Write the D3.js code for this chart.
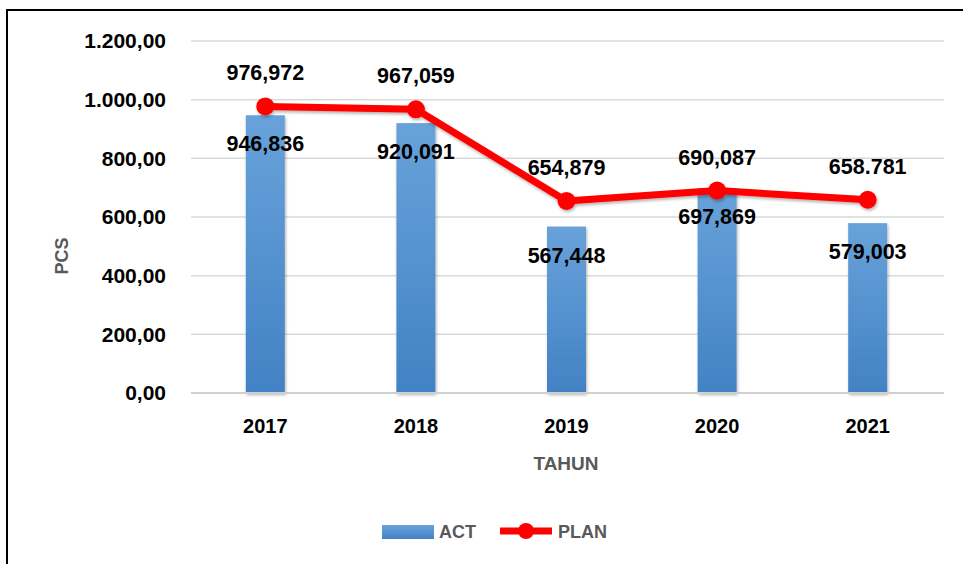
<!DOCTYPE html>
<html>
<head>
<meta charset="utf-8">
<script src="https://cdn.jsdelivr.net/npm/d3@7"></script>
<style>
  html, body { margin: 0; padding: 0; background: #fff; }
  svg { display: block; font-family: "Liberation Sans", Arial, sans-serif; }
</style>
</head>
<body>
<svg id="chart" width="963" height="564"></svg>
<script>
const years = ["2017", "2018", "2019", "2020", "2021"];
const actValues = [946.836, 920.091, 567.448, 697.869, 579.003];
const planValues = [976.972, 967.059, 654.879, 690.087, 658.781];
const actLabels = ["946,836", "920,091", "567,448", "697,869", "579,003"];
const planLabels = ["976,972", "967,059", "654,879", "690,087", "658.781"];
const yTicks = [0, 200, 400, 600, 800, 1000, 1200];

const svg = d3.select("#chart");
const W = 963;
const x0 = 190, x1 = 943;
const y0 = 393, y1 = 41;

// frame
svg.append("rect").attr("x", 7).attr("y", 10).attr("width", 1200).attr("height", 1200)
  .attr("fill", "none").attr("stroke", "#000").attr("stroke-width", 2);

const defs = svg.append("defs");
const grad = defs.append("linearGradient").attr("id", "barGrad")
  .attr("x1", 0).attr("y1", 0).attr("x2", 0).attr("y2", 1);
grad.append("stop").attr("offset", "0%").attr("stop-color", "#68a2da");
grad.append("stop").attr("offset", "100%").attr("stop-color", "#4282c4");
const sh = defs.append("filter").attr("id", "shadow").attr("x", "-20%").attr("y", "-20%").attr("width", "140%").attr("height", "160%");
sh.append("feDropShadow").attr("dx", 1).attr("dy", 2).attr("stdDeviation", 1.5).attr("flood-color", "#000").attr("flood-opacity", 0.3);

const x = d3.scaleBand().domain(years).range([x0, x1]).paddingInner(0).paddingOuter(0);
const y = d3.scaleLinear().domain([0, 1200]).range([y0, y1]);

// gridlines
svg.append("g").selectAll("line").data(yTicks.filter(d => d > 0)).join("line")
  .attr("x1", x0 + 1).attr("x2", x1 + 1)
  .attr("y1", d => y(d)).attr("y2", d => y(d))
  .attr("stroke", "#d9d9d9").attr("stroke-width", 1.5);

// y axis labels
const yAxis = d3.axisLeft(y).tickValues(yTicks).tickSize(0).tickPadding(0)
  .tickFormat(d => d3.format(",.2f")(d).replace(/,/g, "X").replace(/\./g, ",").replace(/X/g, "."));
const yg = svg.append("g").attr("transform", `translate(166,0)`).call(yAxis);
yg.select(".domain").remove();
yg.selectAll("text").attr("font-size", 21).attr("font-weight", "bold").attr("fill", "#000")
  .attr("font-family", "'Liberation Sans', Arial, sans-serif");

// bars
const bw = 39;
svg.append("g").selectAll("rect").data(actValues).join("rect")
  .attr("x", (d, i) => x(years[i]) + x.bandwidth() / 2 - bw / 2)
  .attr("y", d => y(d))
  .attr("width", bw)
  .attr("height", d => y0 - y(d))
  .attr("fill", "url(#barGrad)")
  .attr("filter", "url(#shadow)");

// baseline
svg.append("line").attr("x1", x0 + 1).attr("x2", x1 + 1).attr("y1", y0).attr("y2", y0)
  .attr("stroke", "#d0d0d0").attr("stroke-width", 2);

// x axis
const xAxis = d3.axisBottom(x).tickSize(0).tickPadding(0);
const xg = svg.append("g").attr("transform", `translate(0,${y0 + 26})`).call(xAxis);
xg.select(".domain").remove();
xg.selectAll("text").attr("font-size", 20).attr("font-weight", "bold").attr("fill", "#000")
  .attr("font-family", "'Liberation Sans', Arial, sans-serif");

// line
const cx = i => x(years[i]) + x.bandwidth() / 2;
const line = d3.line().x((d, i) => cx(i)).y(d => y(d));
const lg = svg.append("g").attr("filter", "url(#shadow)");
lg.append("path").datum(planValues).attr("d", line)
  .attr("fill", "none").attr("stroke", "#ff0000").attr("stroke-width", 7).attr("stroke-linejoin", "round");
lg.selectAll("circle").data(planValues).join("circle")
  .attr("cx", (d, i) => cx(i)).attr("cy", d => y(d)).attr("r", 9).attr("fill", "#ff0000");

// data labels
svg.append("g").selectAll("text").data(actValues).join("text")
  .attr("x", (d, i) => cx(i)).attr("y", d => y(d) + 29)
  .attr("text-anchor", "middle").attr("dominant-baseline", "central")
  .attr("font-size", 21.5).attr("font-weight", "bold").attr("fill", "#000")
  .text((d, i) => actLabels[i]);
svg.append("g").selectAll("text").data(planValues).join("text")
  .attr("x", (d, i) => cx(i)).attr("y", d => y(d) - 33)
  .attr("text-anchor", "middle").attr("dominant-baseline", "central")
  .attr("font-size", 21.5).attr("font-weight", "bold").attr("fill", "#000")
  .text((d, i) => planLabels[i]);

// axis titles
svg.append("text").attr("transform", "translate(62,256) rotate(-90)")
  .attr("text-anchor", "middle").attr("dominant-baseline", "central")
  .attr("font-size", 18).attr("font-weight", "bold").attr("fill", "#595959").text("PCS");
svg.append("text").attr("x", 566).attr("y", 463)
  .attr("text-anchor", "middle").attr("dominant-baseline", "central")
  .attr("font-size", 19).attr("font-weight", "bold").attr("fill", "#595959").text("TAHUN");

// legend
const leg = svg.append("g");
leg.append("rect").attr("x", 382).attr("y", 525).attr("width", 52).attr("height", 14).attr("fill", "url(#barGrad)");
leg.append("text").attr("x", 439).attr("y", 532).attr("dominant-baseline", "central")
  .attr("font-size", 18).attr("font-weight", "bold").attr("fill", "#595959").text("ACT");
leg.append("line").attr("x1", 500).attr("x2", 552).attr("y1", 531).attr("y2", 531)
  .attr("stroke", "#ff0000").attr("stroke-width", 7);
leg.append("circle").attr("cx", 526).attr("cy", 531).attr("r", 8).attr("fill", "#ff0000");
leg.append("text").attr("x", 558).attr("y", 532).attr("dominant-baseline", "central")
  .attr("font-size", 18).attr("font-weight", "bold").attr("fill", "#595959").text("PLAN");
</script>
</body>
</html>
